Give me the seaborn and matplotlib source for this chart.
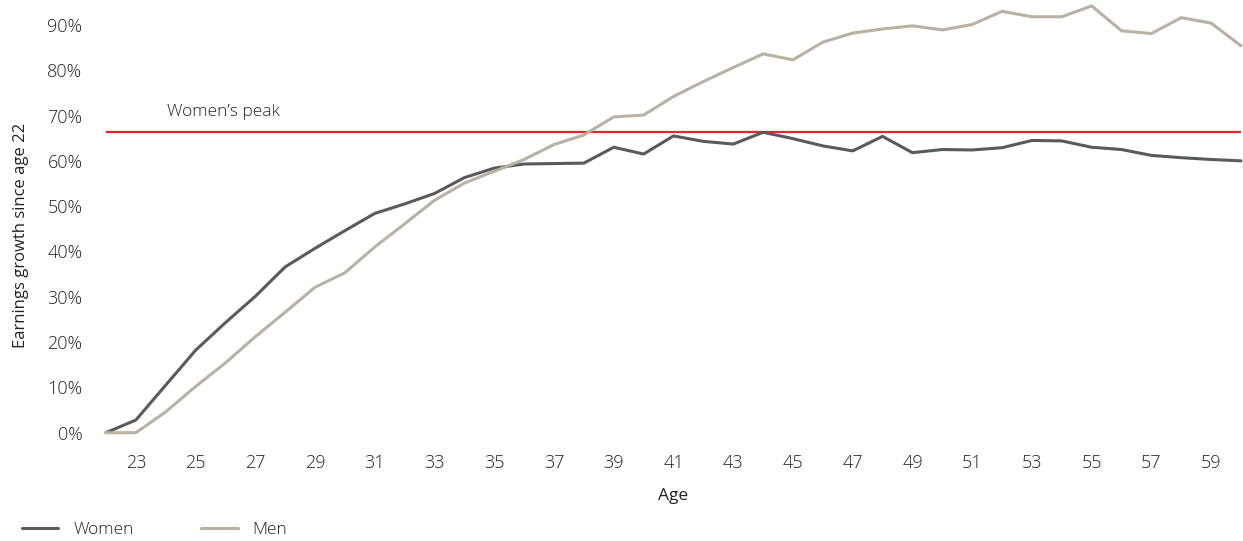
import matplotlib

matplotlib.use("Agg")
import matplotlib.pyplot as plt
import matplotlib.ticker as mticker
import pandas as pd
import seaborn as sns

# earnings growth since age 22 (fraction)
ages = list(range(22, 61))
women = [
    0.000, 0.028, 0.105, 0.182, 0.243, 0.301, 0.366, 0.407, 0.446, 0.484,
    0.505, 0.528, 0.563, 0.584, 0.593, 0.594, 0.595, 0.630, 0.615, 0.655,
    0.643, 0.637, 0.663, 0.649, 0.633, 0.622, 0.654, 0.618, 0.625, 0.624,
    0.629, 0.645, 0.644, 0.630, 0.625, 0.612, 0.607, 0.603, 0.600,
]
men = [
    0.000, 0.000, 0.046, 0.102, 0.154, 0.212, 0.266, 0.321, 0.353, 0.410,
    0.461, 0.513, 0.551, 0.577, 0.603, 0.636, 0.657, 0.697, 0.701, 0.742,
    0.775, 0.806, 0.836, 0.823, 0.862, 0.882, 0.891, 0.898, 0.889, 0.901,
    0.930, 0.918, 0.918, 0.942, 0.887, 0.881, 0.916, 0.904, 0.854,
]
womens_peak = 0.663
xtick_ages = list(range(23, 60, 2))

COLORS = {"Women": "#575b5b", "Men": "#b9b1a1"}
PEAK_COLOR = "#e5262d"
TEXT = "#222222"

df = pd.DataFrame({
    "Age": ages * 2,
    "growth": women + men,
    "group": ["Women"] * len(ages) + ["Men"] * len(ages),
})

sns.set_theme(style="white")
plt.rcParams["font.family"] = ["Open Sans", "DejaVu Sans"]
plt.rcParams["font.weight"] = "light"

fig = plt.figure(figsize=(12.43, 5.41), dpi=100)
ax = fig.add_axes([106 / 1243, 108.3 / 541, 1135 / 1243, 432.7 / 541])

sns.lineplot(data=df, x="Age", y="growth", hue="group", palette=COLORS,
             linewidth=2.2, ax=ax, legend=True)
for ln in ax.lines:
    ln.set_clip_on(False)

ax.axhline(womens_peak, color=PEAK_COLOR, linewidth=1.6, zorder=1)
ax.text(24.05, 0.707, "Women\u2019s peak", fontsize=12.5, color=TEXT,
        va="center", ha="left")

ax.set_xlim(22, 60)
ax.set_ylim(0, 0.955)
ax.set_xticks(xtick_ages)
ax.set_yticks([i / 10 for i in range(10)])
ax.yaxis.set_major_formatter(mticker.PercentFormatter(1.0, decimals=0))
ax.tick_params(axis="both", length=0, labelsize=13, colors=TEXT)
ax.tick_params(axis="x", pad=15)
ax.tick_params(axis="y", pad=17)
sns.despine(ax=ax, left=True, bottom=True)

ax.set_xlabel("Age", fontsize=12.5, color=TEXT)
ax.xaxis.set_label_coords(0.5, -0.127)
ax.set_ylabel("Earnings growth since age 22", fontsize=12, color=TEXT)
ax.yaxis.set_label_coords(-0.068, 0.457)

handles, labels = ax.get_legend_handles_labels()
ax.get_legend().remove()
fig.legend(handles, labels, loc="center left",
           bbox_to_anchor=(22 / 1243, 11 / 541), ncol=2, frameon=False,
           fontsize=12.5, handlelength=2.1, handletextpad=0.85,
           columnspacing=3.9, borderpad=0, borderaxespad=0,
           labelcolor=TEXT)

fig.savefig("out.png", dpi=100)
